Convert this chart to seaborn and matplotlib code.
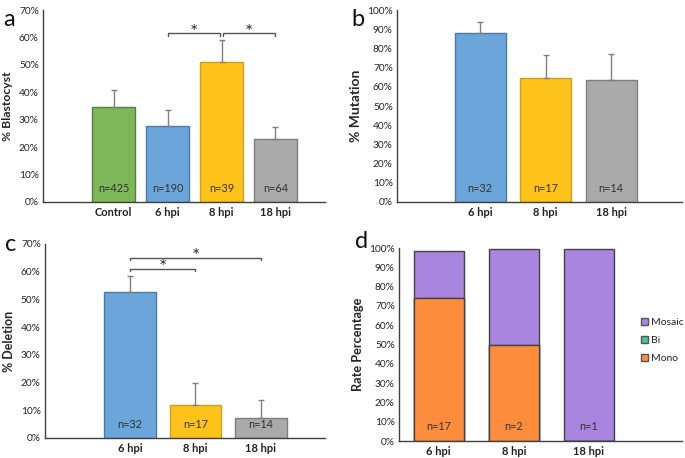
import matplotlib
matplotlib.use("Agg")
import matplotlib.pyplot as plt
import seaborn as sns
import pandas as pd
import numpy as np
from matplotlib.ticker import PercentFormatter, MultipleLocator
from matplotlib.patches import Patch

sns.set_theme(style="white")
plt.rcParams['font.family'] = ['Lato', 'DejaVu Sans']

# ---- data ----
cats_a = ["Control", "6 hpi", "8 hpi", "18 hpi"]
blasto = [34.7, 27.8, 51.0, 22.9]
blasto_err = [6.2, 5.6, 8.0, 4.4]
n_a = ["n=425", "n=190", "n=39", "n=64"]

cats_b = ["6 hpi", "8 hpi", "18 hpi"]
mutation = [87.9, 64.8, 63.8]
mutation_err = [5.9, 11.6, 13.1]
n_b = ["n=32", "n=17", "n=14"]

deletion = [52.7, 12.0, 7.1]
deletion_err = [5.6, 7.7, 6.7]
n_c = ["n=32", "n=17", "n=14"]

mono = [74.3, 49.7, 0.0]
bi = [0.0, 0.0, 0.0]
mosaic = [24.0, 49.6, 99.3]
n_d = ["n=17", "n=2", "n=1"]

green, blue, yellow, gray = "#7DB75A", "#6CA5DA", "#FEC31A", "#AAAAAA"
orange, purple, teal = "#FD8D3C", "#A885DE", "#3EC6A5"
edge = {green: "#55803D", blue: "#4B7AA8", yellow: "#C9A020", gray: "#7F7F7F",
        orange: "#7A4A2A", purple: "#6E6A7A", teal: "#2E8A72"}

fig = plt.figure(figsize=(6.85, 4.58), dpi=100)

def style_axis(ax, top, label, lsize):
    ax.set_ylim(0, top)
    ax.yaxis.set_major_locator(MultipleLocator(10))
    ax.yaxis.set_major_formatter(PercentFormatter(decimals=0))
    for s in ["top", "right"]:
        ax.spines[s].set_visible(False)
    for s in ["left", "bottom"]:
        ax.spines[s].set_color("#404040")
        ax.spines[s].set_linewidth(1.0)
    ax.tick_params(axis="both", length=0, labelsize=7.3, colors="#222222")
    ax.tick_params(axis="y", pad=3)
    for t in ax.get_xticklabels():
        t.set_fontweight("bold")
        t.set_fontsize(8)
    ax.set_xlabel("")
    ax.set_ylabel(label, fontsize=lsize, fontweight="bold", labelpad=4)

def simple_panel(rect, cats, vals, errs, ns, colors, width, xlim, top, label, lsize):
    ax = fig.add_axes(rect)
    df = pd.DataFrame({"cat": cats, "val": vals})
    sns.barplot(data=df, x="cat", y="val", order=cats, hue="cat", palette=colors,
                width=width, legend=False, ax=ax, linewidth=1.0, saturation=1)
    for p, c in zip(ax.patches, colors):
        p.set_edgecolor(edge[c])
    ax.errorbar(np.arange(len(cats)), vals, yerr=[np.zeros(len(errs)), errs],
                fmt="none", ecolor="#808080", elinewidth=1, capsize=2, capthick=1, zorder=1)
    for i, t in enumerate(ns):
        ax.text(i, 0.04, t, transform=ax.get_xaxis_transform(), ha="center",
                va="bottom", fontsize=7.8, color="#333333")
    ax.set_xlim(*xlim)
    style_axis(ax, top, label, lsize)
    return ax

def bracket(ax, x0, x1, y, drop, star_y):
    ax.plot([x0, x0, x1, x1], [y - drop, y, y, y - drop], color="#555555", lw=1)
    ax.text((x0 + x1) / 2, star_y, "*", ha="center", va="baseline", fontsize=14, color="#333333")

# panel a
ax_a = simple_panel([0.0628, 0.559, 0.4117, 0.419], cats_a, blasto, blasto_err, n_a,
                    [green, blue, yellow, gray], 0.8, (-1.31, 3.92), 70, "% Blastocyst", 8.8)
bracket(ax_a, 1.0, 1.97, 61.5, 1.0, 59.8)
bracket(ax_a, 2.03, 3.0, 61.5, 1.0, 59.8)

# panel b
ax_b = simple_panel([0.5796, 0.559, 0.416, 0.419], cats_b, mutation, mutation_err, n_b,
                    [blue, yellow, gray], 0.78, (-1.27, 3.08), 100, "% Mutation", 10)

# panel c
ax_c = simple_panel([0.0657, 0.0437, 0.4088, 0.4236], cats_b, deletion,
                    deletion_err, n_c, [blue, yellow, gray], 0.79, (-1.3, 2.98), 70, "% Deletion", 9)
bracket(ax_c, 0.0, 1.0, 61.1, 1.0, 59.6)
bracket(ax_c, 0.0, 2.0, 65.1, 1.0, 63.6)

# panel d (stacked)
ax_d = fig.add_axes([0.5825, 0.0371, 0.413, 0.4214])
tot = np.array(mono) + np.array(bi) + np.array(mosaic)
mb = np.array(mono) + np.array(bi)
for vals, col in [(tot, purple), (mb, teal), (np.array(mono), orange)]:
    sns.barplot(x=cats_b, y=vals, order=cats_b, color=col, width=0.667, ax=ax_d,
                linewidth=1.0, edgecolor="#444444", saturation=1)
for i, t in enumerate(n_d):
    ax_d.text(i, 0.045, t, transform=ax_d.get_xaxis_transform(), ha="center",
              va="bottom", fontsize=7.8, color="#333333")
ax_d.set_xlim(-0.53, 3.24)
style_axis(ax_d, 100, "Rate Percentage", 9.2)
handles = [Patch(facecolor=purple, edgecolor="#555555", label="Mosaic"),
           Patch(facecolor=teal, edgecolor="#555555", label="Bi"),
           Patch(facecolor=orange, edgecolor="#555555", label="Mono")]
ax_d.legend(handles=handles, loc="center left", bbox_to_anchor=(0.855, 0.52), frameon=False,
            fontsize=7.5, handlelength=0.7, handleheight=0.7, handletextpad=0.3,
            labelspacing=0.85, borderaxespad=0, borderpad=0)

# panel letters
for x, y, s in [(0.005, 0.98, "a"), (0.513, 0.98, "b"), (0.008, 0.49, "c"), (0.518, 0.495, "d")]:
    fig.text(x, y, s, fontsize=17, va="top", ha="left", color="#111111")

fig.savefig("out.png", dpi=100)
